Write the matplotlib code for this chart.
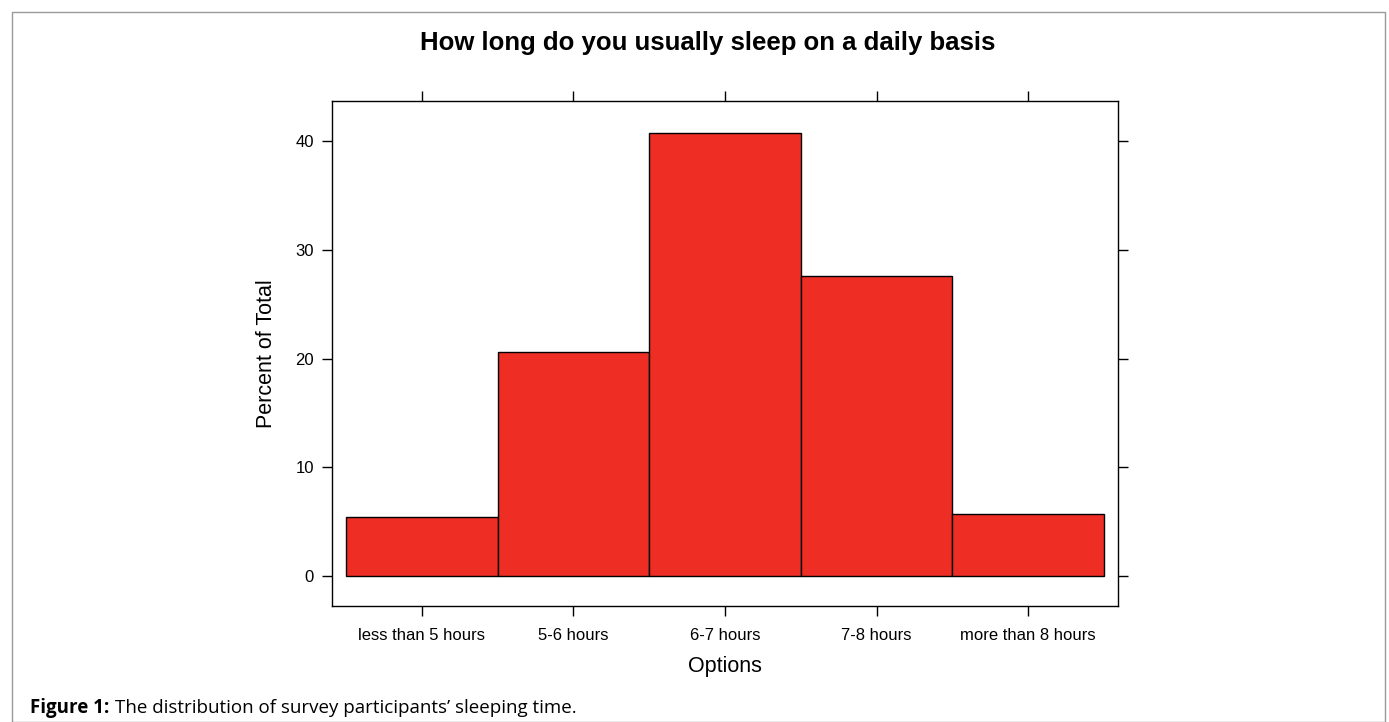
import matplotlib
matplotlib.use("Agg")
import matplotlib.pyplot as plt
from matplotlib.patches import Rectangle

# data
options = ["less than 5 hours", "5-6 hours", "6-7 hours", "7-8 hours", "more than 8 hours"]
percent = [5.45, 20.6, 40.75, 27.6, 5.7]

plt.rcParams['font.family'] = ['Liberation Sans', 'DejaVu Sans']

fig = plt.figure(figsize=(13.89, 7.22), dpi=100)
W, H = 1389, 722
ax = fig.add_axes([332 / W, 1 - 606 / H, (1118 - 332) / W, (606 - 101) / H])

x = list(range(len(options)))
ax.bar(x, percent, width=1.0, color="#ee2e24", edgecolor="black", linewidth=1)
ax.set_xlim(-0.594, 4.594)
ax.set_ylim(-2.76, 43.7)
ax.set_xticks(x)
ax.set_xticklabels(options, fontsize=12)
ax.set_yticks([0, 10, 20, 30, 40])
ax.tick_params(axis='both', direction='out', length=7, top=True, right=True,
               labelsize=12, width=1)
ax.tick_params(axis='x', pad=8.5)
ax.tick_params(axis='y', pad=6)
ax.set_xlabel("Options", fontsize=15.5, labelpad=10)
ax.set_ylabel("Percent of Total", fontsize=15.5, labelpad=13)
for s in ax.spines.values():
    s.set_linewidth(1)

fig.text(708 / W, 1 - 43 / H, "How long do you usually sleep on a daily basis",
         ha="center", va="center", fontsize=18.5, fontweight="bold")

fig.text(30 / W, 1 - 708 / H, "Figure 1:", ha="left", va="center",
         fontsize=13.5, fontweight="bold", family="Open Sans")
fig.text(115 / W, 1 - 708 / H, "The distribution of survey participants\u2019 sleeping time.",
         ha="left", va="center", fontsize=13.5, family="Open Sans")

# outer frame
fig.patches.append(Rectangle((12 / W, 0), (1385 - 12) / W, 1 - 12 / H,
                             transform=fig.transFigure, fill=False,
                             edgecolor="#999999", linewidth=1))

fig.savefig("out.png", dpi=100)
